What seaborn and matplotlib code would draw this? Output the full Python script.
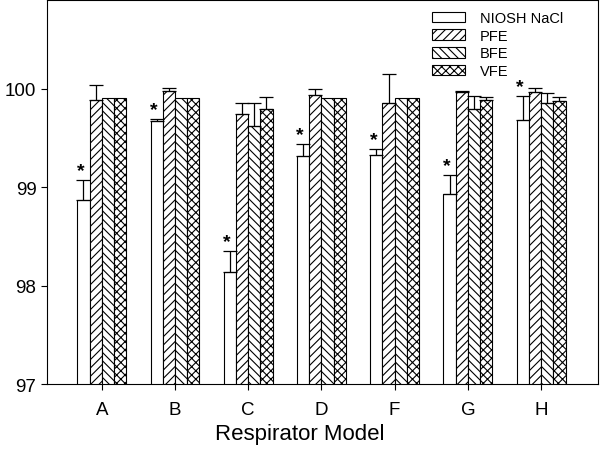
import numpy as np
import pandas as pd
import matplotlib
matplotlib.use("Agg")
import matplotlib.pyplot as plt
import seaborn as sns

sns.set_style("ticks")
plt.rcParams['font.family'] = ['Liberation Sans', 'DejaVu Sans']
plt.rcParams['hatch.linewidth'] = 0.8
plt.rcParams['text.color'] = 'black'
plt.rcParams['xtick.color'] = 'black'
plt.rcParams['ytick.color'] = 'black'
plt.rcParams['axes.labelcolor'] = 'black'

models = ['A', 'B', 'C', 'D', 'F', 'G', 'H']
methods = ['NIOSH NaCl', 'PFE', 'BFE', 'VFE']

niosh = [98.87, 99.67, 98.14, 99.32, 99.33, 98.93, 99.68]
niosh_err = [0.20, 0.02, 0.21, 0.12, 0.06, 0.19, 0.24]
pfe = [99.88, 99.98, 99.74, 99.93, 99.85, 99.97, 99.97]
pfe_err = [0.16, 0.03, 0.11, 0.07, 0.30, 0.01, 0.04]
bfe = [99.90, 99.90, 99.62, 99.90, 99.90, 99.79, 99.85]
bfe_err = [0.0, 0.0, 0.23, 0.0, 0.0, 0.13, 0.10]
vfe = [99.90, 99.90, 99.79, 99.90, 99.90, 99.88, 99.87]
vfe_err = [0.0, 0.0, 0.12, 0.0, 0.0, 0.03, 0.04]

# NIOSH result significantly different from the others
significant = [True] * 7

values = {'NIOSH NaCl': niosh, 'PFE': pfe, 'BFE': bfe, 'VFE': vfe}
errors = {'NIOSH NaCl': niosh_err, 'PFE': pfe_err, 'BFE': bfe_err, 'VFE': vfe_err}
hatches = {'NIOSH NaCl': '', 'PFE': '////', 'BFE': '\\\\\\\\', 'VFE': 'xxxx'}

df = pd.DataFrame([
    {'model': m, 'method': meth, 'efficiency': values[meth][i]}
    for meth in methods for i, m in enumerate(models)
])

fig, ax = plt.subplots(figsize=(6, 4.52), dpi=100)
fig.subplots_adjust(left=0.078, right=0.997, bottom=0.148, top=0.998)

sns.barplot(
    data=df, x='model', y='efficiency', hue='method', hue_order=methods,
    order=models, palette=['white'] * 4, saturation=1, errorbar=None,
    width=0.667, edgecolor='black', linewidth=0.8, ax=ax
)

for meth, cont in zip(methods, ax.containers):
    for bar, err in zip(cont.patches, errors[meth]):
        bar.set_hatch(hatches[meth])
        x = bar.get_x() + bar.get_width() / 2
        top = bar.get_height()
        if err > 0:
            ax.errorbar(x, top, yerr=[[0], [err]], fmt='none', ecolor='black',
                        elinewidth=0.9, capsize=5, capthick=0.9)

for bar, err, sig in zip(ax.containers[0].patches, niosh_err, significant):
    if sig:
        x = bar.get_x() + bar.get_width() / 2
        ax.text(x - 0.04, bar.get_height() + err + 0.01, '*', ha='center',
                va='bottom', fontsize=14, fontweight='bold')

ax.set_ylim(97, 100.9)
ax.set_xlim(-0.75, 6.78)
ax.set_yticks([97, 98, 99, 100])
ax.tick_params(axis='y', labelsize=13.5, length=4, direction='out')
ax.tick_params(axis='x', labelsize=13.5, length=4, direction='out', pad=8)
ax.set_xlabel('Respirator Model', fontsize=16)
ax.xaxis.set_label_coords(0.459, -0.10)
ax.set_ylabel('')
for side in ['top', 'right', 'left', 'bottom']:
    ax.spines[side].set_visible(True)
    ax.spines[side].set_color('black')
    ax.spines[side].set_linewidth(0.8)

ax.legend(ax.containers, methods, loc='upper left', bbox_to_anchor=(0.685, 0.99),
          frameon=False, fontsize=10.5, handlelength=2.3, handleheight=0.75,
          labelspacing=0.25, handletextpad=1.0, borderpad=0)

fig.savefig('out.png', dpi=100)
